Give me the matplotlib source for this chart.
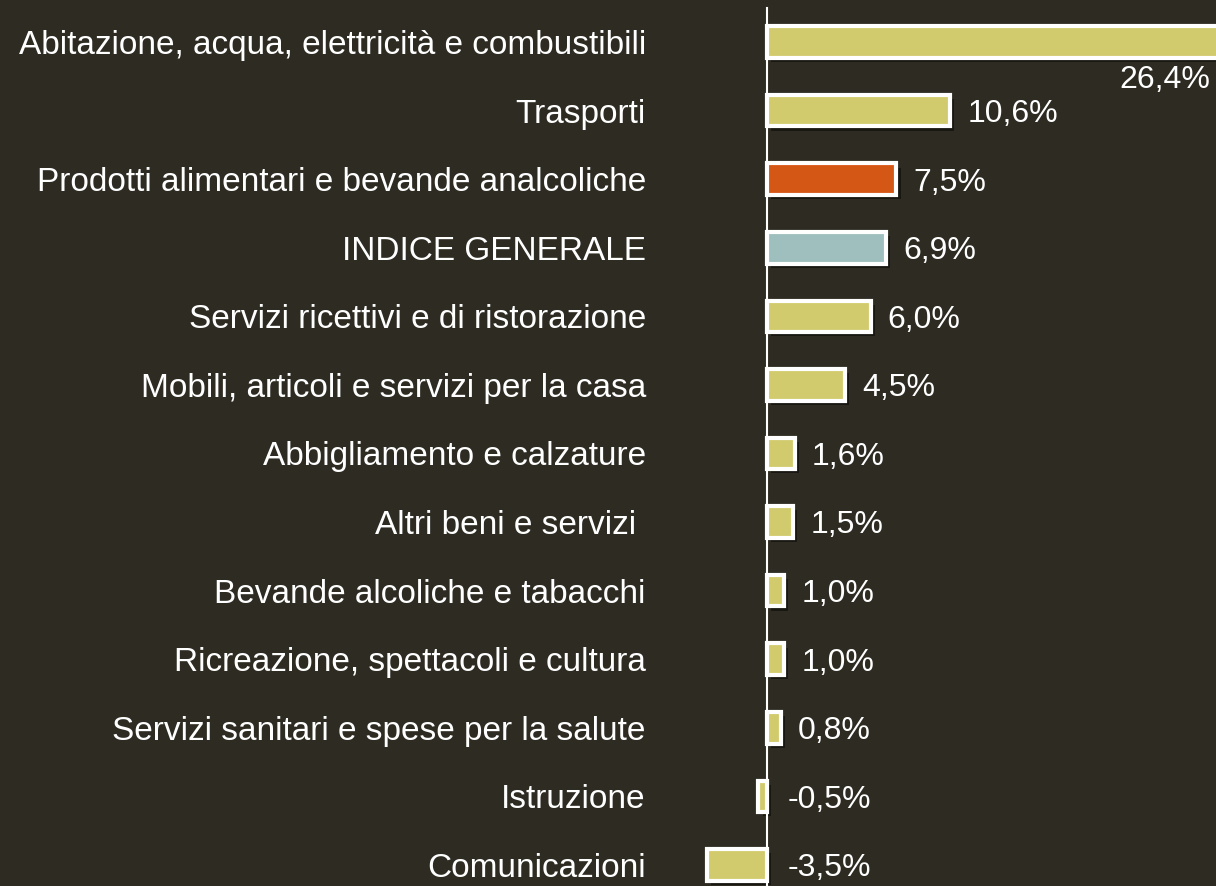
import matplotlib.pyplot as plt
import matplotlib.patheffects as pe

# Data
categories = [
    'Abitazione, acqua, elettricità e combustibili',
    'Trasporti',
    'Prodotti alimentari e bevande analcoliche',
    'INDICE GENERALE',
    'Servizi ricettivi e di ristorazione',
    'Mobili, articoli e servizi per la casa',
    'Abbigliamento e calzature',
    'Altri beni e servizi ',
    'Bevande alcoliche e tabacchi',
    'Ricreazione, spettacoli e cultura',
    'Servizi sanitari e spese per la salute',
    'Istruzione',
    'Comunicazioni',
]
values = [26.4, 10.6, 7.5, 6.9, 6.0, 4.5, 1.6, 1.5, 1.0, 1.0, 0.8, -0.5, -3.5]
labels = ['26,4%', '10,6%', '7,5%', '6,9%', '6,0%', '4,5%', '1,6%', '1,5%',
          '1,0%', '1,0%', '0,8%', '-0,5%', '-3,5%']

BG = '#2e2b22'
YELLOW = '#d2cb6e'
ORANGE = '#d55716'
TEAL = '#9fbfbe'
colors = [YELLOW] * len(values)
colors[2] = ORANGE
colors[3] = TEAL

plt.rcParams['font.family'] = ['Liberation Sans', 'DejaVu Sans']
FS = 24
FS_VAL = 23

fig = plt.figure(figsize=(12.16, 8.86), dpi=100, facecolor=BG)
ax = fig.add_axes([700 / 1216, 0, 516 / 1216, 1])
ax.set_facecolor(BG)

ypos = list(range(len(values)))
shadow = [pe.SimplePatchShadow(offset=(3, -3), shadow_rgbFace='black', alpha=0.45), pe.Normal()]
bars = ax.barh(ypos, values, height=0.46, color=colors, edgecolor='white',
               linewidth=3, zorder=3)
for b in bars:
    b.set_path_effects(shadow)

# value labels
for i, (v, lab) in enumerate(zip(values, labels)):
    if i == 0:
        ax.text(25.7, 0.55, lab, ha='right', va='center', color='white', fontsize=FS_VAL)
    elif v >= 0:
        ax.text(v + 1.0, i + 0.05, lab, ha='left', va='center', color='white', fontsize=FS_VAL)
    else:
        ax.text(1.2, i + 0.05, lab, ha='left', va='center', color='white', fontsize=FS_VAL)

px = 17.26
ax.set_xlim(-(767 - 700) / px, (1216 - 767) / px)
ax.set_ylim((886 - 42) / 68.58, -42 / 68.58)

ax.axvline(0, ymin=0, ymax=1 - 8 / 886, color='white', linewidth=1.5, zorder=4)

ax.set_yticks(ypos)
ax.set_yticklabels(categories, color='white', fontsize=FS)
ax.tick_params(axis='y', length=0, pad=39)
ax.set_xticks([])
for s in ax.spines.values():
    s.set_visible(False)

fig.savefig('out.png', dpi=100, facecolor=BG)
